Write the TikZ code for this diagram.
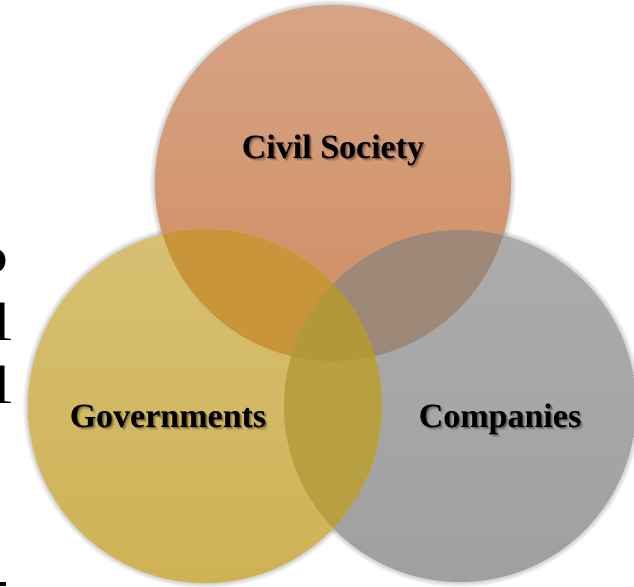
\documentclass[tikz,border=0pt]{standalone}
\usepackage{fontspec}
\setmainfont{Liberation Serif}
\begin{document}
\begin{tikzpicture}[x=1pt,y=-1pt,
  lbl/.style={inner sep=0pt,anchor=base,font=\fontsize{34}{40}\selectfont\bfseries,text=black},
  lblshadow/.style={lbl,text=black,text opacity=#1},
  frag/.style={inner sep=0pt,anchor=base east,font=\fontsize{54}{60}\selectfont,text=black},
  halo/.style={fill=black,fill opacity=0.035}
]
\useasboundingbox (0,0) rectangle (634,586);
\clip (0,0) rectangle (634,586);
\fill[white] (0,0) rectangle (634,586);
\definecolor{civA}{RGB}{214,164,134}
\definecolor{civB}{RGB}{208,140,96}
\definecolor{govA}{RGB}{216,192,116}
\definecolor{govB}{RGB}{206,178,84}
\definecolor{cmpA}{RGB}{172,172,172}
\definecolor{cmpB}{RGB}{160,160,160}
\definecolor{civgov}{RGB}{200,149,58}
\definecolor{civcmp}{RGB}{158,136,120}
\definecolor{govcmp}{RGB}{184,160,64}
\definecolor{allthree}{RGB}{178,152,56}
\coordinate (cs) at (333,183);
\coordinate (gv) at (205,406);
\coordinate (cp) at (460,406);
% soft halos
\foreach \r in {1,2,3,4,5}{
  \fill[halo] (cs) circle ({178pt+\r pt});
  \fill[halo] (gv) circle ({177pt+\r pt});
  \fill[halo] (cp) circle ({176pt+\r pt});
}
% circles
\shade[top color=civA,bottom color=civB] (cs) circle (178pt);
\shade[top color=cmpA,bottom color=cmpB] (cp) circle (176pt);
\shade[top color=govA,bottom color=govB] (gv) circle (177pt);
% pairwise overlaps
\begin{scope}
  \clip (cs) circle (178pt);
  \fill[civgov] (gv) circle (177pt);
\end{scope}
\begin{scope}
  \clip (cs) circle (178pt);
  \fill[civcmp] (cp) circle (176pt);
\end{scope}
\begin{scope}
  \clip (gv) circle (177pt);
  \fill[govcmp] (cp) circle (176pt);
\end{scope}
\begin{scope}
  \clip (cs) circle (178pt);
  \clip (gv) circle (177pt);
  \fill[allthree] (cp) circle (176pt);
\end{scope}
% labels with soft shadow
\foreach \d/\o in {3/0.08,2/0.15,1.2/0.25}{
  \node[lblshadow=\o] at (333+\d,158+\d) {Civil Society};
  \node[lblshadow=\o] at (168+\d,427+\d) {Governments};
  \node[lblshadow=\o] at (500+\d,427+\d) {Companies};
}
\node[lbl] (civil) at (333,158) {Civil Society};
\node[lbl] (gov) at (168,427) {Governments};
\node[lbl] (comp) at (500,427) {Companies};
% cut-off text at the left edge
\node[frag] (f1) at (9,273) {\scalebox{1.5}[1]{o}};
\node[frag] (f2) at (13,340) {\scalebox{1.5}[1]{l}};
\node[frag] (f3) at (13,403) {\scalebox{1.5}[1]{l}};
\fill[black] (0,581.5) rectangle (6,586);
\end{tikzpicture}
\end{document}
